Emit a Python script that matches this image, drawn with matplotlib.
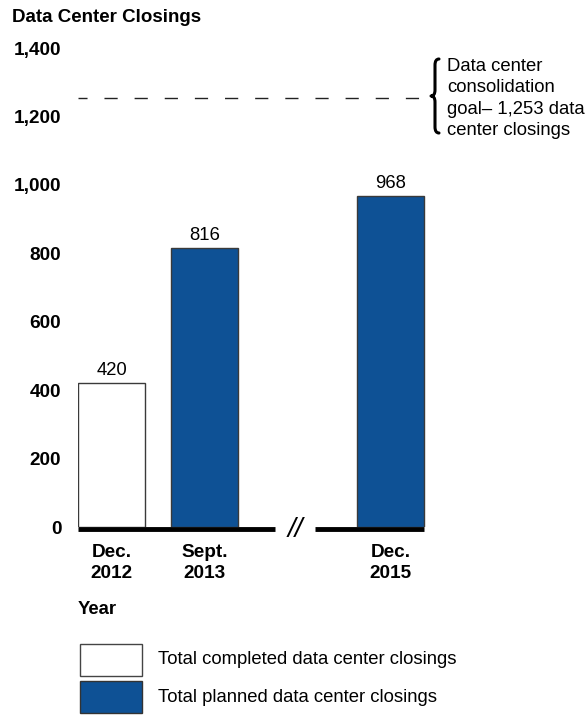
import matplotlib
matplotlib.use("Agg")
import matplotlib.pyplot as plt
from matplotlib.patches import Rectangle, PathPatch
from matplotlib.path import Path

plt.rcParams['font.family'] = ['Liberation Sans', 'DejaVu Sans']

categories = ["Dec.\n2012", "Sept.\n2013", "Dec.\n2015"]
values = [420, 816, 968]
series_kind = ["completed", "planned", "planned"]
positions = [0, 1, 3]
goal = 1253
yticks = [0, 200, 400, 600, 800, 1000, 1200, 1400]
legend_labels = ["Total completed data center closings", "Total planned data center closings"]

BLUE = "#0E5195"
W, H = 587, 715
fig = plt.figure(figsize=(W / 100, H / 100), dpi=100)

def fx(px):
    return px / W

def fy(py):
    return 1 - py / H

ax = fig.add_axes([fx(78), fy(527), fx(428) - fx(78), fy(48) - fy(527)])
ax.set_xlim(-0.36, 3.4)
ax.set_ylim(0, 1400)
for s in ax.spines.values():
    s.set_visible(False)
ax.set_xticks([])
ax.set_yticks(yticks)
ax.set_yticklabels([f"{v:,}" for v in yticks], fontsize=13.7, fontweight='bold')
ax.tick_params(axis='y', length=0, pad=12)
for lab in ax.get_yticklabels():
    lab.set_horizontalalignment('right')

width = 0.72
for pos, v, kind, cat in zip(positions, values, series_kind, categories):
    fc = 'white' if kind == 'completed' else BLUE
    ax.bar(pos, v, width=width, color=fc, edgecolor='#3a3a3a', linewidth=1.0, zorder=2)
    ax.text(pos, v + 12, f"{v}", ha='center', va='bottom', fontsize=13.3)
    ax.text(pos, -50, cat, ha='center', va='top', fontsize=13.7, fontweight='bold',
            linespacing=1.32)

# goal dashed line
ax.axhline(goal, color='#222222', linestyle=(3, (9.5, 12.2)), linewidth=1.0)

# baseline with break
ax.plot([-0.36, 1.76], [-5, -5], color='black', linewidth=3.5, solid_capstyle='butt', zorder=3, clip_on=False)
ax.plot([2.19, 3.36], [-5, -5], color='black', linewidth=3.5, solid_capstyle='butt', zorder=3, clip_on=False)
ax.text(1.98, -10, "//", ha='center', va='center', fontsize=20, style='italic', zorder=4)

# title
fig.text(fx(12), fy(17), "Data Center Closings", ha='left', va='center', fontsize=13.5, fontweight='bold')

# Overlay axes in pixel coordinates for annotation and legend
lax = fig.add_axes([0, 0, 1, 1], facecolor='none')
lax.set_xlim(0, W)
lax.set_ylim(H, 0)
lax.axis('off')

# brace
x0, w, yt, yb = 431, 8, 59, 133
ym = (yt + yb) / 2
r = 6
verts = [
    (x0 + w, yt), (x0 + w / 2, yt), (x0 + w / 2, yt + r),
    (x0 + w / 2, ym - r),
    (x0 + w / 2, ym), (x0, ym),
    (x0 + w / 2, ym), (x0 + w / 2, ym + r),
    (x0 + w / 2, yb - r),
    (x0 + w / 2, yb), (x0 + w, yb),
]
codes = [Path.MOVETO, Path.CURVE3, Path.CURVE3, Path.LINETO,
         Path.CURVE3, Path.CURVE3, Path.CURVE3, Path.CURVE3,
         Path.LINETO, Path.CURVE3, Path.CURVE3]
lax.add_patch(PathPatch(Path(verts, codes), facecolor='none', edgecolor='black', linewidth=2.2,
                        capstyle='round', joinstyle='round'))

ann = "Data center\nconsolidation\ngoal\u2013 1,253 data\ncenter closings"
lax.text(447, 58, ann, ha='left', va='top', fontsize=13.3, linespacing=1.33)

# Year label
lax.text(78, 610, "Year", ha='left', va='center', fontsize=13.3, fontweight='bold')

# legend
lax.add_patch(Rectangle((80, 644), 62, 32, facecolor='white', edgecolor='#444444', linewidth=1.0))
lax.add_patch(Rectangle((80, 681), 62, 32, facecolor=BLUE, edgecolor='#333333', linewidth=1.0))
lax.text(158, 660, legend_labels[0], ha='left', va='center', fontsize=13.3)
lax.text(158, 698, legend_labels[1], ha='left', va='center', fontsize=13.3)

fig.savefig("out.png", dpi=100)
